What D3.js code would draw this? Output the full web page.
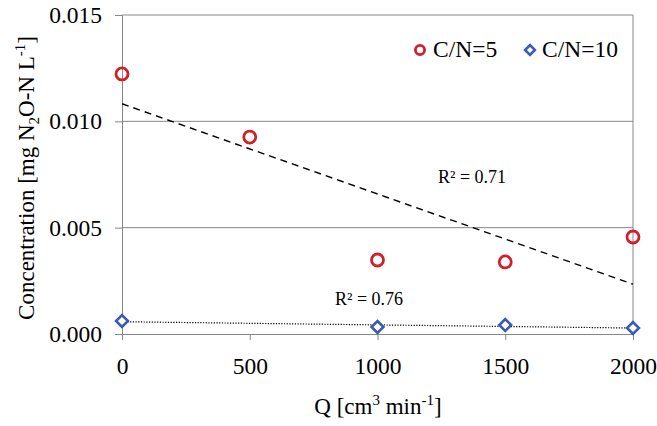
<!DOCTYPE html>
<html><head><meta charset="utf-8">
<script src="https://cdn.jsdelivr.net/npm/d3@7"></script>
<style>body{margin:0;background:#fff}svg{display:block}svg text{font-family:'Liberation Serif','Times New Roman',Times,serif;fill:#000}</style>
</head><body>
<svg id="c" width="657" height="426"></svg>
<script>
const q5 = [0, 500, 1000, 1500, 2000];
const c5 = [0.01223, 0.00926, 0.00348, 0.00339, 0.00456];
const q10 = [0, 1000, 1500, 2000];
const c10 = [0.00061, 0.00033, 0.00042, 0.00028];
const xTicks = [0, 500, 1000, 1500, 2000];
const yTicks = [0, 0.005, 0.010, 0.015];
const r2Labels = ["R² = 0.71", "R² = 0.76"];

const FONT = "'Liberation Serif','Times New Roman',Times,serif";
const svg = d3.select("#c");
const m = {l:122, r:633, t:15, b:334};
const x = d3.scaleLinear().domain([0,2000]).range([m.l,m.r]);
const y = d3.scaleLinear().domain([0,0.015]).range([m.b,m.t]);
const grey = "#878787";

svg.append("g").selectAll("line").data(yTicks.filter(d=>d>0)).join("line")
  .attr("x1",m.l).attr("x2",m.r).attr("y1",d=>y(d)).attr("y2",d=>y(d))
  .attr("stroke",grey).attr("stroke-width",1);
svg.append("line").attr("x1",m.r).attr("x2",m.r).attr("y1",m.t).attr("y2",m.b).attr("stroke",grey);

const ya = svg.append("g").attr("transform",`translate(${m.l},0)`)
  .call(d3.axisLeft(y).tickValues(yTicks).tickFormat(d3.format(".3f")).tickSize(7).tickPadding(13));
const xa = svg.append("g").attr("transform",`translate(0,${m.b})`)
  .call(d3.axisBottom(x).tickValues(xTicks).tickFormat(d3.format("d")).tickSize(6).tickPadding(17));
[ya,xa].forEach(a=>{
  a.attr("font-family",FONT).attr("font-size",23.5);
  a.selectAll("path,line").attr("stroke",grey);
  a.selectAll("text").attr("fill","#000");
});

function fit(xs, ys){
  const mx=d3.mean(xs), my=d3.mean(ys);
  const s=d3.sum(xs,(v,i)=>(v-mx)*(ys[i]-my))/d3.sum(xs,v=>(v-mx)**2);
  return {a:my-s*mx, b:s};
}
const f5=fit(q5,c5), f10=fit(q10,c10);
svg.append("line").attr("x1",x(0)).attr("x2",x(2000)).attr("y1",y(f5.a)).attr("y2",y(f5.a+f5.b*2000))
  .attr("stroke","#000").attr("stroke-width",1.4).attr("stroke-dasharray","7,5");
svg.append("line").attr("x1",x(0)).attr("x2",x(2000)).attr("y1",y(f10.a)).attr("y2",y(f10.a+f10.b*2000))
  .attr("stroke","#000").attr("stroke-width",1.2).attr("stroke-dasharray","1.2,1.5");

const red="#d0202a", blue="#3a5bb5";
svg.append("g").selectAll("circle").data(q5.map((d,i)=>[d,c5[i]])).join("circle")
  .attr("cx",d=>x(d[0])).attr("cy",d=>y(d[1])).attr("r",6).attr("fill","none").attr("stroke",red).attr("stroke-width",2.8);
const dia = d3.symbol().type(d3.symbolSquare).size(70);
svg.append("g").selectAll("path").data(q10.map((d,i)=>[d,c10[i]])).join("path")
  .attr("d",dia).attr("transform",d=>`translate(${x(d[0])},${y(d[1])}) rotate(45)`)
  .attr("fill","#fff").attr("stroke",blue).attr("stroke-width",2.6);

svg.append("text").attr("x",438).attr("y",183).attr("font-size",18).text(r2Labels[0]);
svg.append("text").attr("x",335).attr("y",305).attr("font-size",18).text(r2Labels[1]);

svg.append("circle").attr("cx",420).attr("cy",50).attr("r",4.6).attr("fill","none").attr("stroke",red).attr("stroke-width",2.8);
svg.append("text").attr("x",433).attr("y",57).attr("font-size",23.5).text("C/N=5");
svg.append("path").attr("d",d3.symbol().type(d3.symbolSquare).size(48)).attr("transform","translate(530,50) rotate(45)")
  .attr("fill","#fff").attr("stroke",blue).attr("stroke-width",2.6);
svg.append("text").attr("x",542).attr("y",57).attr("font-size",23.5).text("C/N=10");

const xt = svg.append("text").attr("x",378).attr("y",414).attr("text-anchor","middle").attr("font-size",23);
xt.append("tspan").text("Q [cm");
xt.append("tspan").attr("dy",-9).attr("font-size",15).text("3");
xt.append("tspan").attr("dy",9).text("  min");
xt.append("tspan").attr("dy",-9).attr("font-size",15).text("-1");
xt.append("tspan").attr("dy",9).text("]");

const yt = svg.append("text").attr("transform","translate(34,178) rotate(-90)").attr("text-anchor","middle").attr("font-size",23);
yt.append("tspan").text("Concentration [mg N");
yt.append("tspan").attr("dy",5).attr("font-size",15).text("2");
yt.append("tspan").attr("dy",-5).text("O-N L");
yt.append("tspan").attr("dy",-9).attr("font-size",15).text("-1");
yt.append("tspan").attr("dy",9).text("]");
</script>
</body></html>
